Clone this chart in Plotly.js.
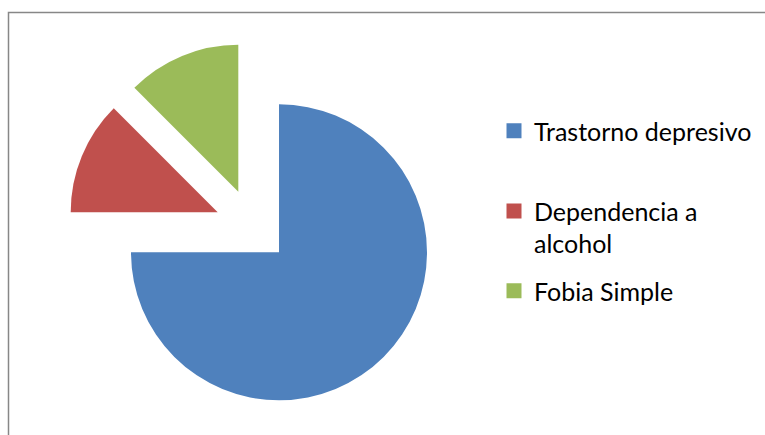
<!DOCTYPE html>
<html><head><meta charset="utf-8">
<script src="https://cdn.plot.ly/plotly-3.0.1.min.js"></script>
<style>html,body{margin:0;padding:0;background:#fff}#chart{width:765px;height:435px}</style>
</head><body><div id="chart"></div>
<script>
// ---- data ----
const labels = ["Trastorno depresivo", "Dependencia a alcohol", "Fobia Simple"];
const legendLabels = ["Trastorno depresivo", "Dependencia a<br>alcohol", "Fobia Simple"];
const values = [75, 12.5, 12.5];
const colors = ["#4F81BD", "#C0504D", "#9BBB59"];

// ---- layout geometry (pixels) ----
const W = 765, H = 435;
const radii = [148, 147, 147];
// vertex of each (exploded) slice
const vertices = [[279, 252.3], [217.7, 212.3], [238.3, 191.7]];
function dom(c, r) {
  return {x: [(c[0] - r) / W, (c[0] + r) / W], y: [1 - (c[1] + r) / H, 1 - (c[1] - r) / H]};
}

const pies = colors.map((c, k) => ({
  type: 'pie', labels: labels, values: values, sort: false,
  direction: 'clockwise', rotation: 0,
  marker: {colors: colors.map((cc, j) => j === k ? cc : 'rgba(0,0,0,0)'), line: {width: 0}},
  textinfo: 'none', hoverinfo: 'skip', showlegend: false,
  domain: dom(vertices[k], radii[k])
}));

const legendIds = ['legend', 'legend2', 'legend3'];
const proxies = labels.map((l, k) => ({
  type: 'scatter', x: [null], y: [null], mode: 'markers',
  name: legendLabels[k], legend: legendIds[k],
  marker: {symbol: 'square', size: 15, color: colors[k]},
  hoverinfo: 'skip', showlegend: true
}));

const legFont = {family: 'Lato, "Open Sans", sans-serif', size: 25, color: '#000'};
const legX = 494 / W;
function leg(yCenterPx) {
  return {x: legX, y: 1 - yCenterPx / H, xanchor: 'left', yanchor: 'middle',
          font: legFont, bgcolor: 'rgba(0,0,0,0)', borderwidth: 0, valign: 'top'};
}

const layout = {
  width: W, height: H,
  margin: {l: 0, r: 0, t: 0, b: 0},
  paper_bgcolor: '#fff', plot_bgcolor: 'rgba(0,0,0,0)',
  xaxis: {visible: false}, yaxis: {visible: false},
  showlegend: true,
  legend: leg(131),
  legend2: leg(227.3),
  legend3: leg(291),
  shapes: [{type: 'rect', xref: 'paper', yref: 'paper',
            x0: 8.5 / W, x1: 1.05, y0: -0.05, y1: 1 - 12.5 / H,
            line: {color: '#878787', width: 1.5}, fillcolor: 'rgba(0,0,0,0)'}]
};

Plotly.newPlot('chart', pies.concat(proxies), layout, {displayModeBar: false, staticPlot: true});
</script>
</body></html>
